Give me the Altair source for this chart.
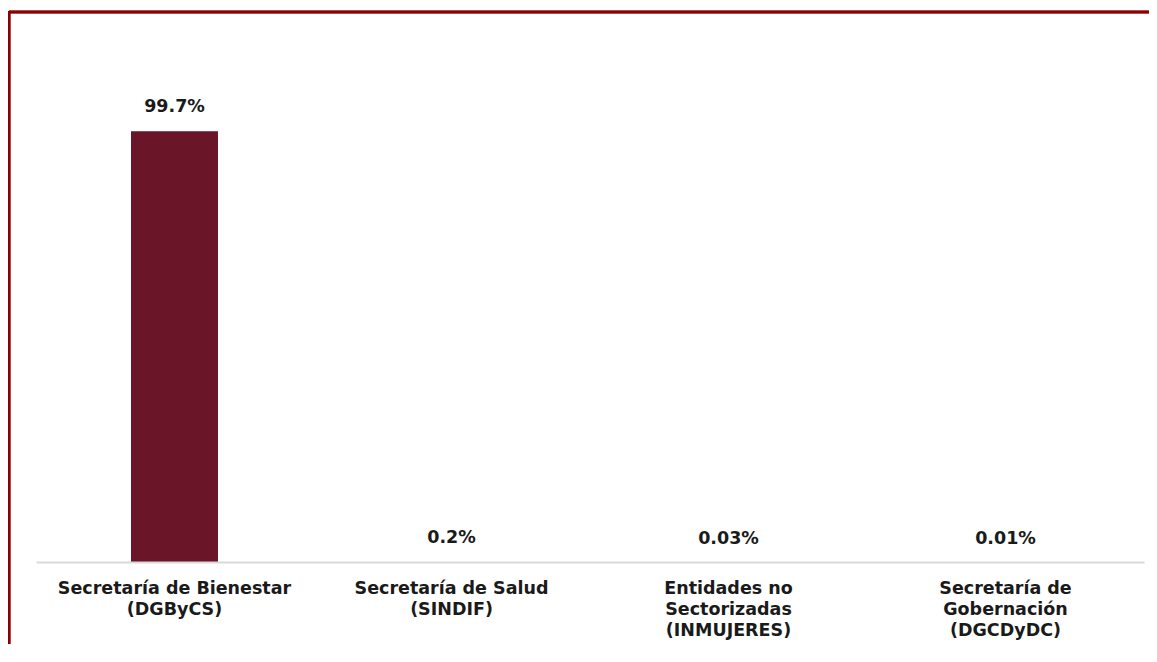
import altair as alt
import pandas as pd

categories = [
    "Secretaría de Bienestar\n(DGByCS)",
    "Secretaría de Salud\n(SINDIF)",
    "Entidades no\nSectorizadas\n(INMUJERES)",
    "Secretaría de\nGobernación\n(DGCDyDC)",
]
values = [99.7, 0.2, 0.03, 0.01]
value_labels = ["99.7%", "0.2%", "0.03%", "0.01%"]

df = pd.DataFrame({"cat": categories, "val": values, "lab": value_labels})

FONT = "DejaVu Sans"
W, H = 1108, 433

x = alt.X(
    "cat:N",
    sort=categories,
    title=None,
    scale=alt.Scale(paddingInner=0.686, paddingOuter=0.343),
    axis=alt.Axis(
        labelAngle=0,
        labelExpr="split(datum.label, '\\n')",
        labelFont=FONT,
        labelFontSize=17.5,
        labelFontWeight="bold",
        labelColor="#1a1a1a",
        labelLineHeight=21,
        labelPadding=17,
        labelBaseline="top",
        labelLimit=0,
        ticks=False,
        domainColor="#d9d9d9",
        domainWidth=2,
        grid=False,
        zindex=1,
    ),
)
y = alt.Y("val:Q", title=None, scale=alt.Scale(domain=[0, 100]), axis=None)

bars = alt.Chart(df).mark_bar(color="#6B1528", yOffset=0.9).encode(x=x, y=y)
texts = alt.Chart(df).mark_text(
    font=FONT, fontSize=17.5, fontWeight="bold", color="#1a1a1a",
    baseline="alphabetic", dy=-18
).encode(x=alt.X("cat:N", sort=categories), y="val:Q", text="lab:N")

frame_top = alt.Chart(df).mark_rule(color="#8B0000", strokeWidth=2.5).encode(
    x=alt.value(-27), x2=alt.value(1200), y=alt.value(-117)
)
frame_left = alt.Chart(df).mark_rule(color="#8B0000", strokeWidth=2.5).encode(
    x=alt.value(-27), y=alt.value(-118), y2=alt.value(700)
)

chart = (
    alt.layer(bars, texts, frame_top, frame_left)
    .properties(
        width=W,
        height=H,
        autosize=alt.AutoSizeParams(type="none"),
        padding={"left": 28, "top": 121, "right": 5, "bottom": 82},
        background="white",
    )
    .configure_view(stroke=None)
)

chart.save("out.html", embed_options={"renderer": "svg", "actions": False})
